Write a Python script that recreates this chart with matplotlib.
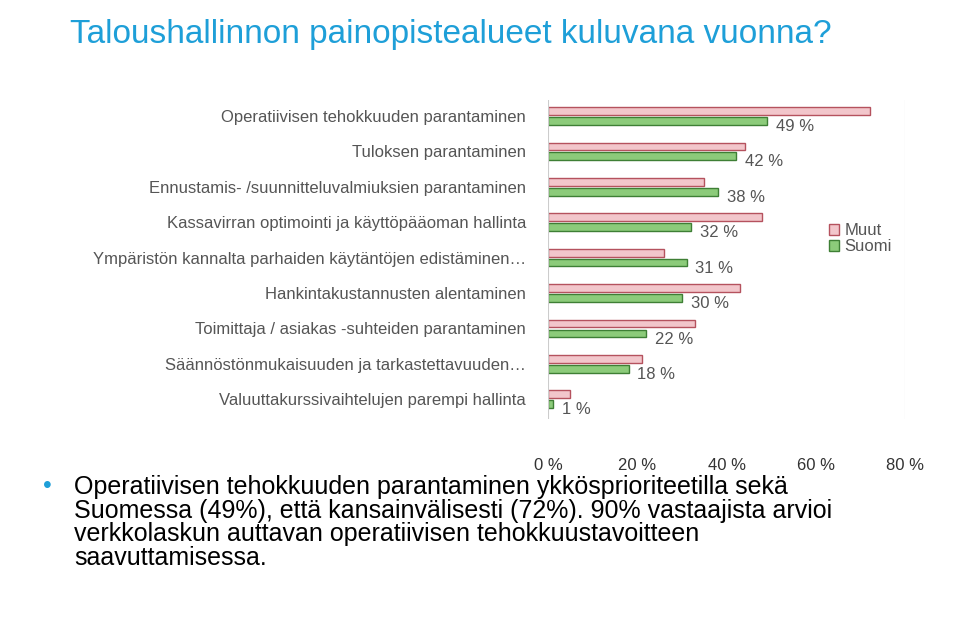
import matplotlib
matplotlib.use("Agg")
import matplotlib.pyplot as plt
import numpy as np
from matplotlib.patches import Patch

plt.rcParams['font.family'] = ['Liberation Sans', 'DejaVu Sans']

categories = ["Operatiivisen tehokkuuden parantaminen", "Tuloksen parantaminen",
              "Ennustamis- /suunnitteluvalmiuksien parantaminen",
              "Kassavirran optimointi ja käyttöpääoman hallinta",
              "Ympäristön kannalta parhaiden käytäntöjen edistäminen…",
              "Hankintakustannusten alentaminen",
              "Toimittaja / asiakas -suhteiden parantaminen",
              "Säännöstönmukaisuuden ja tarkastettavuuden…",
              "Valuuttakurssivaihtelujen parempi hallinta"]
suomi = [49, 42, 38, 32, 31, 30, 22, 18, 1]
muut = [72, 44, 35, 48, 26, 43, 33, 21, 5]
xticks = [0, 20, 40, 60, 80]

fig = plt.figure(figsize=(9.6, 6.25), dpi=100)
fig.text(0.073, 0.945, "Taloushallinnon painopistealueet kuluvana vuonna?",
         fontsize=24, color="#1E9FD8", va="center")

ax = fig.add_axes([0.571, 0.33, 0.372, 0.51])
y = np.arange(len(categories))
h = 0.22
ax.barh(y - h / 2 - 0.03, muut, height=h, color="#F2C6CB", edgecolor="#B5525E", linewidth=1)
ax.barh(y + h / 2 + 0.03, suomi, height=h, color="#8CCB7A", edgecolor="#3E7F35", linewidth=1)
for yi, v in zip(y, suomi):
    ax.text(v + 2, yi + 0.3, f"{v} %", fontsize=12, color="#555555", va="center")
ax.set_ylim(len(categories) - 0.45, -0.45)
ax.set_xlim(0, 80)
ax.set_yticks(y)
ax.set_yticklabels(categories, fontsize=12, color="#555555")
ax.set_xticks(xticks)
ax.set_xticklabels([f"{t} %" for t in xticks], fontsize=12, color="#333333")
ax.tick_params(axis="y", length=0, pad=16)
ax.tick_params(axis="x", length=0, pad=28)
for s in ax.spines.values():
    s.set_visible(False)
ax.axvline(80, color="#CCCCCC", lw=0.8)
ax.axvline(0, color="#CCCCCC", lw=0.8)

ax.legend(handles=[Patch(facecolor="#F2C6CB", edgecolor="#B5525E", label="Muut"),
                   Patch(facecolor="#8CCB7A", edgecolor="#3E7F35", label="Suomi")],
          loc="upper left", bbox_to_anchor=(0.745, 0.66), frameon=False, fontsize=12,
          handlelength=0.6, handleheight=0.6, handletextpad=0.3, labelspacing=0.05,
          labelcolor="#555555")

fig.text(0.045, 0.222, "•", fontsize=18, color="#1E9FD8", va="center")
fig.text(0.077, 0.24, "Operatiivisen tehokkuuden parantaminen ykkösprioriteetilla sekä\n"
         "Suomessa (49%), että kansainvälisesti (72%). 90% vastaajista arvioi\n"
         "verkkolaskun auttavan operatiivisen tehokkuustavoitteen\n"
         "saavuttamisessa.", fontsize=18, color="#000000", va="top", linespacing=0.98)
fig.savefig("out.png", dpi=100)
